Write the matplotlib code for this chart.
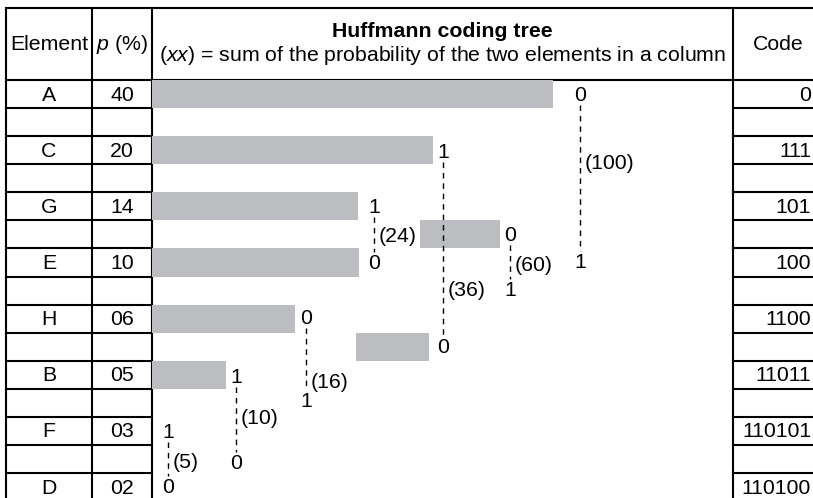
import numpy as np
import matplotlib
matplotlib.use("Agg")
from matplotlib import pyplot as plt

plt.rcParams['font.family'] = ['Liberation Sans', 'DejaVu Sans']
plt.rcParams['mathtext.fontset'] = 'custom'
plt.rcParams['mathtext.rm'] = 'Liberation Sans'
plt.rcParams['mathtext.it'] = 'Liberation Sans:italic'

# table contents
elements = ["A", "C", "G", "E", "H", "B", "F", "D"]
probs = ["40", "20", "14", "10", "06", "05", "03", "02"]
codes = ["0", "111", "101", "100", "1100", "11011", "110101", "110100"]

# bar lengths drawn for the leaves (schematic, not to scale), 0 = no bar
leaf_bar = [401, 281, 206, 207, 143, 74, 0, 0]
# bars for merged nodes: (row, left, right)
merged_bar_rows = [5, 9]
merged_bar_left = [420, 356]
merged_bar_right = [500, 429]

# merges of the tree
sums = [5, 10, 16, 24, 36, 60, 100]
merge_x = [168, 236, 306, 374, 443, 510, 580]
top_y = [432, 377, 318, 207, 152, 235, 95]
bot_y = [487, 463, 401, 263, 347, 290, 262]
top_digit = ["1", "1", "0", "1", "1", "0", "0"]
bot_digit = ["0", "0", "1", "0", "0", "1", "1"]
label_y = [462, 418, 382, 236, 290, 265, 163]

W, H = 813, 498
fig = plt.figure(figsize=(W / 100, H / 100), dpi=100)
ax = fig.add_axes([0, 0, 1, 1])
ax.set_xlim(0, W)
ax.set_ylim(H, 0)
ax.axis("off")

fs = 15.3
lw = 1.5
gray = "#bcbdc1"

x_left, x_el, x_p, x_code = 6, 92, 152, 733
y_top, y_head = 8, 80
row_h = (473 - y_head) / 14.0
n_rows = 15

def row_c(i):
    return y_head + row_h * (i + 0.5)

# grid lines
ax.plot([x_left, W], [y_top, y_top], color="black", lw=lw, zorder=1)
ax.plot([x_left, W], [y_head, y_head], color="black", lw=lw, zorder=1)
for k in range(1, n_rows):
    yy = y_head + row_h * k
    ax.plot([x_left, x_p], [yy, yy], color="black", lw=lw, zorder=1)
    ax.plot([x_code, W], [yy, yy], color="black", lw=lw, zorder=1)
for xx in [x_left, x_el, x_p, x_code]:
    ax.plot([xx, xx], [y_top, H + 2], color="black", lw=lw, zorder=1)

# bars
leaf_rows = np.arange(len(elements)) * 2
ax.barh([row_c(r) for r in leaf_rows], leaf_bar, left=x_p, height=row_h,
        color=gray, zorder=2)
ax.barh([row_c(r) for r in merged_bar_rows],
        np.array(merged_bar_right) - np.array(merged_bar_left),
        left=merged_bar_left, height=row_h, color=gray, zorder=2)

# headers
ax.text((x_left + x_el) / 2, 44, "Element", ha="center", va="center", fontsize=fs)
ax.text((x_el + x_p) / 2, 44, "$\\mathit{p}$ (%)", ha="center", va="center", fontsize=fs)
ax.text((x_p + x_code) / 2, 31, "Huffmann coding tree", ha="center", va="center",
        fontsize=fs, fontweight="bold")
ax.text((x_p + x_code) / 2, 55,
        "($\\mathit{xx}$) = sum of the probability of the two elements in a column",
        ha="center", va="center", fontsize=fs)
ax.text(778, 44, "Code", ha="center", va="center", fontsize=fs)

# rows
for i, r in enumerate(leaf_rows):
    yc = row_c(r) + 1
    ax.text((x_left + x_el) / 2, yc, elements[i], ha="center", va="center", fontsize=fs)
    ax.text((x_el + x_p) / 2, yc, probs[i], ha="center", va="center", fontsize=fs)
    ax.text(811, yc, codes[i], ha="right", va="center", fontsize=fs)

# tree
for s, x, yt, yb, dt, db, yl in zip(sums, merge_x, top_y, bot_y, top_digit, bot_digit, label_y):
    ax.text(x, yt, dt, ha="center", va="center", fontsize=fs, zorder=4)
    ax.text(x, yb, db, ha="center", va="center", fontsize=fs, zorder=4)
    ax.plot([x, x], [yt + 10, yb - 11], color="black", lw=1.0,
            linestyle=(0, (4, 3.5)), zorder=3)
    ax.text(x + 5, yl, "(%d)" % s, ha="left", va="center", fontsize=fs, zorder=4)

fig.savefig("out.png", dpi=100)
